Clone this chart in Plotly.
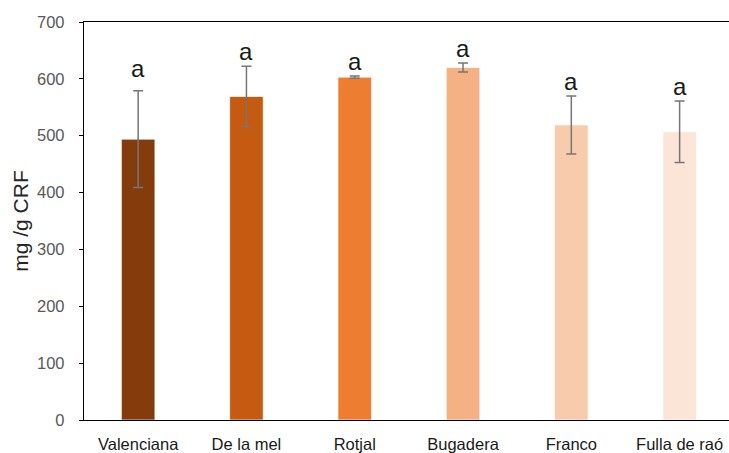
import plotly.graph_objects as go

# Sample names, mean content (mg/g CRF) and standard deviation
varieties = ["Valenciana", "De la mel", "Rotjal", "Bugadera", "Franco", "Fulla de raó"]
means = [494, 569, 603, 620, 519, 507]
sds = [85, 53, 2, 8, 51, 54]
letters = ["a", "a", "a", "a", "a", "a"]
bar_colors = ["#843C0C", "#C55A11", "#ED7D31", "#F4B183", "#F8CBAD", "#FBE5D6"]
y_ticks = [0, 100, 200, 300, 400, 500, 600, 700]

fig = go.Figure()
fig.add_trace(go.Bar(
    x=varieties,
    y=means,
    width=0.31,
    marker=dict(color=bar_colors, line=dict(color="rgba(255,255,255,0.7)", width=1)),
    error_y=dict(type="data", array=sds, visible=True, color="#767676",
                 thickness=1.5, width=5),
    showlegend=False,
))

# significance letters above each error bar
extra_shift = {0: 8}
for i, (v, m, s, t) in enumerate(zip(varieties, means, sds, letters)):
    fig.add_annotation(
        x=v, y=m + s, text=t, showarrow=False, yanchor="bottom",
        yshift=-1 + extra_shift.get(i, 0),
        font=dict(family="Liberation Sans, Arial, sans-serif", size=24, color="#1a1a1a"),
    )

fig.update_layout(
    width=729, height=453,
    margin=dict(l=84, r=0, t=22, b=33),
    plot_bgcolor="white", paper_bgcolor="white",
    xaxis=dict(
        range=[-0.5, 5.456],
        showline=True, linecolor="#000000", linewidth=1.3, mirror=True,
        ticks="", showgrid=False,
        tickfont=dict(family="Liberation Sans, Arial, sans-serif", size=16.5, color="#1a1a1a"),
        ticklabelstandoff=9,
    ),
    yaxis=dict(
        range=[0, 700],
        tickvals=y_ticks,
        showline=True, linecolor="#000000", linewidth=1.3,
        ticks="outside", ticklen=4, tickcolor="#000000", tickwidth=1,
        showgrid=False, zeroline=False,
        tickfont=dict(family="Liberation Sans, Arial, sans-serif", size=16.5, color="#595959"),
        ticklabelstandoff=11,
        title=dict(text="mg /g CRF", standoff=2,
                   font=dict(family="Liberation Sans, Arial, sans-serif", size=21, color="#262626")),
    ),
)

fig.write_html("out.html")
